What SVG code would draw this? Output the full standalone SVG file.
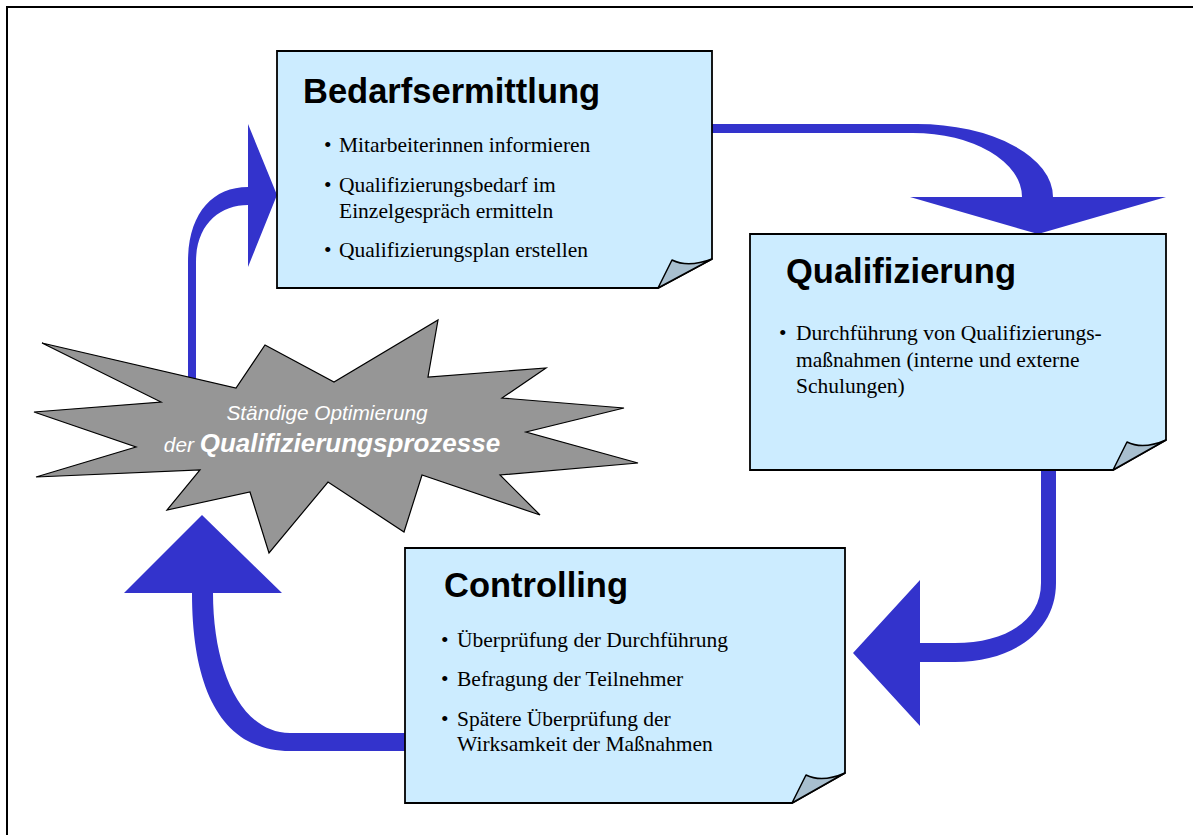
<svg xmlns="http://www.w3.org/2000/svg" width="1193" height="835" viewBox="0 0 1193 835">
<defs>
<style>
.box{fill:#CCECFF;stroke:#000;stroke-width:1.8;stroke-linejoin:miter}
.fold{fill:#A8BFCF;stroke:#000;stroke-width:1.5;stroke-linejoin:round}
.title{font-family:"Liberation Sans",Arial,sans-serif;font-weight:bold;font-size:34.5px;fill:#000}
.item{font-family:"Liberation Serif","Times New Roman",serif;font-size:21.5px;fill:#000}
.arrow{fill:#3333CC;stroke:none}
.star{fill:#969696;stroke:#000;stroke-width:1.2;stroke-linejoin:miter}
.startext{font-family:"Liberation Sans",Arial,sans-serif;font-style:italic;fill:#FFFFFF}
</style>
</defs>
<rect x="0" y="0" width="1193" height="835" fill="#FFFFFF"/>
<rect x="7" y="7" width="1200" height="900" fill="none" stroke="#000" stroke-width="2"/>

<g id="connectors">
  <!-- star to Bedarfsermittlung -->
  <path class="arrow" d="M188,392 L188,262 C188,214 212,187 248,187 L248,124 L277,195 L248,267 L248,205 C220,205 196,224 196,262 L196,392 Z"/>
  <!-- Bedarfsermittlung to Qualifizierung -->
  <path class="arrow" d="M705,124 L917,124 A136 73 0 0 1 1053,197 L1166,197 L1038,234 L910,197 L1022,197 A109 64 0 0 0 913,133 L705,133 Z"/>
  <!-- Qualifizierung to Controlling -->
  <path class="arrow" d="M1041,462 L1056,462 L1056,583 C1056,632 1012,662 955,662 L920,662 L920,726 L853,653 L920,580 L920,643 L955,643 C1004,643 1041,622 1041,583 Z"/>
  <!-- Controlling to star -->
  <path class="arrow" d="M412,751 L290,751 C222,751 192,690 192,593 L124,593 L202,515 L282,593 L213,593 C213,668 240,733 290,733 L412,733 Z"/>
</g>

<g id="node-bedarfsermittlung">
  <path class="box" d="M277,51 H712 V259 L658,288 H277 Z"/>
  <path class="fold" d="M658,288 L672,260 Q688,268 712,259 Z"/>
  <text class="title" x="303" y="103">Bedarfsermittlung</text>
  <text class="item" x="324" y="152">•</text>
  <text class="item" x="339" y="152">Mitarbeiterinnen informieren</text>
  <text class="item" x="324" y="192">•</text>
  <text class="item" x="339" y="192">Qualifizierungsbedarf im</text>
  <text class="item" x="339" y="218">Einzelgespräch ermitteln</text>
  <text class="item" x="324" y="257">•</text>
  <text class="item" x="339" y="257">Qualifizierungsplan erstellen</text>
</g>

<g id="node-qualifizierung">
  <path class="box" d="M750,234 H1166 V440 L1113,470 H750 Z"/>
  <path class="fold" d="M1113,470 L1127,442 Q1143,450 1166,440 Z"/>
  <text class="title" x="786" y="283">Qualifizierung</text>
  <text class="item" x="779" y="340">•</text>
  <text class="item" x="796" y="340">Durchführung von Qualifizierungs-</text>
  <text class="item" x="796" y="367">maßnahmen (interne und externe</text>
  <text class="item" x="796" y="393">Schulungen)</text>
</g>

<g id="node-controlling">
  <path class="box" d="M405,548 H845 V773 L792,803 H405 Z"/>
  <path class="fold" d="M792,803 L806,775 Q822,783 845,773 Z"/>
  <text class="title" x="444" y="597">Controlling</text>
  <text class="item" x="441" y="647">•</text>
  <text class="item" x="457" y="647">Überprüfung der Durchführung</text>
  <text class="item" x="441" y="686">•</text>
  <text class="item" x="457" y="686">Befragung der Teilnehmer</text>
  <text class="item" x="441" y="726">•</text>
  <text class="item" x="457" y="726">Spätere Überprüfung der</text>
  <text class="item" x="457" y="751">Wirksamkeit der Maßnahmen</text>
</g>

<g id="node-optimierung">
  <path class="star" d="M42,343 L236,388 L265,345 L334,382 L438,320 L428,377 L546,368 L502,398 L624,408 L526,432 L638,463 L500,475 L540,515 L422,475 L404,532 L328,482 L269,553 L250,492 L167,510 L200,470 L36,477 L136,447 L34,412 L161,402 Z"/>
  <text class="startext" x="327" y="420" text-anchor="middle" font-size="20.8">Ständige Optimierung</text>
  <text class="startext" x="332" y="452" text-anchor="middle"><tspan font-size="20.8">der </tspan><tspan font-size="26" font-weight="bold">Qualifizierungsprozesse</tspan></text>
</g>
</svg>
